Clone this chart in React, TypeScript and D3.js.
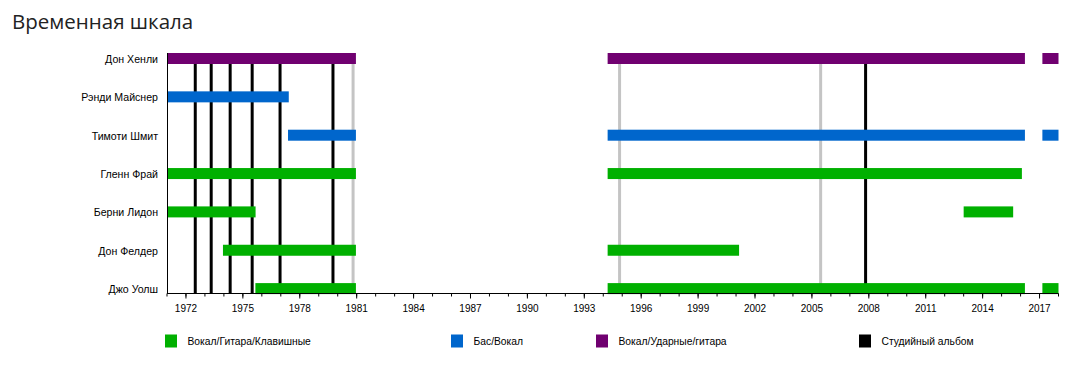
import React from "react";
import * as d3 from "d3";

const members = [
  "Дон Хенли",
  "Рэнди Майснер",
  "Тимоти Шмит",
  "Гленн Фрай",
  "Берни Лидон",
  "Дон Фелдер",
  "Джо Уолш",
];

const roles = ["Вокал/Гитара/Клавишные", "Бас/Вокал", "Вокал/Ударные/гитара", "Студийный альбом"];

const periods = [
  { member: "Дон Хенли", role: "Вокал/Ударные/гитара", from: 1971.0, to: 1980.96 },
  { member: "Дон Хенли", role: "Вокал/Ударные/гитара", from: 1994.23, to: 2016.23 },
  { member: "Дон Хенли", role: "Вокал/Ударные/гитара", from: 2017.15, to: 2018.0 },
  { member: "Рэнди Майснер", role: "Бас/Вокал", from: 1971.0, to: 1977.42 },
  { member: "Тимоти Шмит", role: "Бас/Вокал", from: 1977.38, to: 1980.96 },
  { member: "Тимоти Шмит", role: "Бас/Вокал", from: 1994.23, to: 2016.23 },
  { member: "Тимоти Шмит", role: "Бас/Вокал", from: 2017.15, to: 2018.0 },
  { member: "Гленн Фрай", role: "Вокал/Гитара/Клавишные", from: 1971.0, to: 1980.96 },
  { member: "Гленн Фрай", role: "Вокал/Гитара/Клавишные", from: 1994.23, to: 2016.07 },
  { member: "Берни Лидон", role: "Вокал/Гитара/Клавишные", from: 1971.0, to: 1975.67 },
  { member: "Берни Лидон", role: "Вокал/Гитара/Клавишные", from: 2013.0, to: 2015.61 },
  { member: "Дон Фелдер", role: "Вокал/Гитара/Клавишные", from: 1973.95, to: 1980.96 },
  { member: "Дон Фелдер", role: "Вокал/Гитара/Клавишные", from: 1994.23, to: 2001.16 },
  { member: "Джо Уолш", role: "Вокал/Гитара/Клавишные", from: 1975.66, to: 1980.96 },
  { member: "Джо Уолш", role: "Вокал/Гитара/Клавишные", from: 1994.23, to: 2016.23 },
  { member: "Джо Уолш", role: "Вокал/Гитара/Клавишные", from: 2017.15, to: 2018.0 },
];

const studioAlbums = [1972.49, 1973.33, 1974.33, 1975.49, 1976.96, 1979.75, 2007.83];
const liveAlbums = [1980.81, 1994.86, 2005.46];

const yearDomain = [1971, 2018];
const majorTicks = [1972, 1975, 1978, 1981, 1984, 1987, 1990, 1993, 1996, 1999, 2002, 2005, 2008, 2011, 2014, 2017];
const minorTicks = d3.range(1971, 2019);

const roleColor: Record<string, string> = {
  "Вокал/Гитара/Клавишные": "#00b000",
  "Бас/Вокал": "#0066cc",
  "Вокал/Ударные/гитара": "#700070",
  "Студийный альбом": "#000000",
};

const legendX = [165, 451, 596, 859];

export default function App() {
  const x = d3.scaleLinear().domain(yearDomain).range([167, 1058.5]);
  const y = d3.scalePoint<string>().domain(members).range([58.5, 288.6]);
  const barH = 11;
  const top = 53;
  const axisY = 293.5;
  const font = "'Liberation Sans', Arial, sans-serif";

  return (
    <svg
      width={1087}
      height={366}
      style={{ position: "absolute", left: 0, top: 0, background: "#fff" }}
    >
      <rect width={1087} height={366} fill="#fff" />
      <text x={12} y={28.5} fontFamily="'Open Sans', sans-serif" fontSize={20.5} fill="#222">
        Временная шкала
      </text>

      {liveAlbums.map((d, i) => (
        <line key={"l" + i} x1={x(d)} x2={x(d)} y1={top} y2={axisY} stroke="#c4c4c4" strokeWidth={3} />
      ))}
      {studioAlbums.map((d, i) => (
        <line key={"s" + i} x1={x(d)} x2={x(d)} y1={top} y2={axisY} stroke="#000" strokeWidth={3} />
      ))}

      {periods.map((p, i) => (
        <rect
          key={"p" + i}
          x={x(p.from)}
          y={(y(p.member) as number) - barH / 2}
          width={x(p.to) - x(p.from)}
          height={barH}
          fill={roleColor[p.role]}
        />
      ))}

      {members.map((m) => (
        <text
          key={m}
          x={158}
          y={(y(m) as number) + 0.5}
          textAnchor="end"
          dominantBaseline="central"
          fontFamily={font}
          fontSize={10.6}
          fill="#000"
        >
          {m}
        </text>
      ))}

      <line x1={167.5} x2={167.5} y1={top} y2={axisY} stroke="#000" strokeWidth={1} />
      <line x1={167} x2={1058.5} y1={axisY} y2={axisY} stroke="#000" strokeWidth={1} />
      {minorTicks.map((t) => (
        <line key={"m" + t} x1={x(t)} x2={x(t)} y1={axisY} y2={axisY + 3} stroke="#000" strokeWidth={1} />
      ))}
      {majorTicks.map((t) => (
        <g key={"t" + t}>
          <line x1={x(t)} x2={x(t)} y1={axisY} y2={axisY + 5} stroke="#000" strokeWidth={1} />
          <text
            x={x(t)}
            y={308}
            textAnchor="middle"
            dominantBaseline="central"
            fontFamily={font}
            fontSize={10}
            fill="#000"
          >
            {t}
          </text>
        </g>
      ))}

      {roles.map((r, i) => (
        <g key={r}>
          <rect x={legendX[i]} y={334.5} width={12} height={13} fill={roleColor[r]} />
          <text
            x={legendX[i] + 22.5}
            y={341}
            dominantBaseline="central"
            fontFamily={font}
            fontSize={10.3}
            fill="#000"
          >
            {r}
          </text>
        </g>
      ))}
    </svg>
  );
}
